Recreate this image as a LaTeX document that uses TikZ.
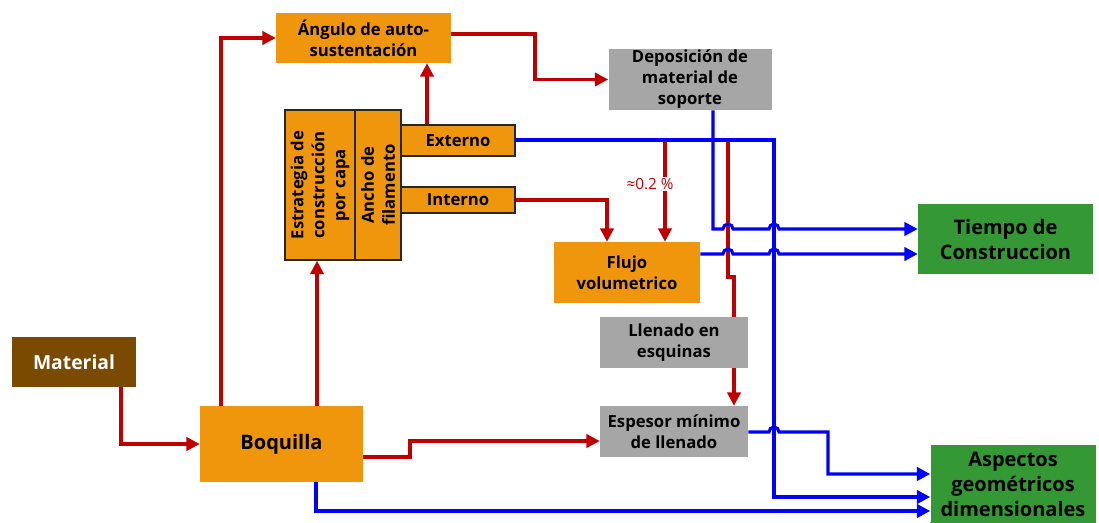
\documentclass[tikz,border=0pt]{standalone}
\usepackage{fontspec}
\setmainfont{Open Sans}
\usetikzlibrary{arrows.meta}
\definecolor{naranja}{RGB}{240,150,12}
\definecolor{gris}{RGB}{166,166,166}
\definecolor{verde}{RGB}{52,153,52}
\definecolor{cafe}{RGB}{122,74,0}
\definecolor{rojo}{RGB}{192,0,0}
\definecolor{azul}{RGB}{0,0,255}
% small bridge where a blue line jumps over another one
\newcommand\hop[2]{-- (#1-5,#2) arc[start angle=180,end angle=0,radius=3.75pt]}

\begin{document}
\begin{tikzpicture}[x=0.75pt,y=-0.75pt,
  box/.style={inner sep=0pt,align=center,font=\bfseries\fontsize{12.5}{15.75}\selectfont},
  orangebox/.style={box,fill=naranja},
  framebox/.style={box,fill=naranja,draw=black!85,line width=1.2pt},
  graybox/.style={box,fill=gris},
  greenbox/.style={box,fill=verde,font=\bfseries\fontsize{15}{18.75}\selectfont},
  redline/.style={draw=rojo,line width=2.3pt,-{Triangle[length=10pt,width=10pt]}},
  blueline/.style={draw=azul,line width=2.3pt,-{Triangle[length=10pt,width=10pt]}}]
\useasboundingbox (0,0) rectangle (1099,522);

  \node[box,fill=cafe,text=white,minimum width=93pt,minimum height=37.5pt,font=\bfseries\fontsize{14.5}{16}\selectfont] (mat) at (74,362){Material};
  \node[orangebox,minimum width=122.25pt,minimum height=57pt,font=\bfseries\fontsize{15}{17}\selectfont] (boq) at (281.5,444){Boquilla};
  \node[orangebox,minimum width=131.25pt,minimum height=37.5pt] (ang) at (363.5,38){Ángulo de auto-\\sustentación};
  \node[graybox,minimum width=122.25pt,minimum height=45.75pt] (dep) at (690,79.5){Deposición de\\material de\\soporte};

  \node[framebox,rotate=90,minimum width=112.5pt,minimum height=52.5pt] (est) at (320,185){Estrategia de\\construcción\\por capa};
  \node[framebox,rotate=90,minimum width=112.5pt,minimum height=34.5pt] (anc) at (378,185){Ancho de\\filamento};
  \node[framebox,minimum width=85.5pt,minimum height=23.25pt] (ext) at (458,140.5){Externo};
  \node[framebox,minimum width=85.5pt,minimum height=19.5pt] (int) at (458,200){Interno};

  \node[orangebox,minimum width=109.5pt,minimum height=45.75pt] (flu) at (627,272.5){Flujo\\volumetrico};
  \node[graybox,minimum width=111pt,minimum height=38.25pt] (lle) at (674,342.5){Llenado en\\esquinas};
  \node[graybox,minimum width=111pt,minimum height=38.25pt] (esp) at (674,431.5){Espesor mínimo\\de llenado};

  \node[greenbox,minimum width=131.25pt,minimum height=52.5pt] (tie) at (1005.5,239){Tiempo de\\Construccion};
  \node[greenbox,minimum width=123.75pt,minimum height=60pt] (asp) at (1013,484.5){Aspectos\\geométricos\\dimensionales};
  \fill[verde] (asp.south west) rectangle (asp.east |- 0,522);

  \coordinate (e1) at (665,140);
  \coordinate (e2) at (728,140);

  % red connectors
  \draw[redline] (mat.south -| 121,0) |- (boq.west);
  \draw[redline] (boq.north -| 221,0) |- (ang.west);
  \draw[redline] (boq.north -| 317,0) -- (est.west -| 317,0);
  \draw[redline] (boq.east |- 0,457) -| (410,441) -- (esp.west |- 0,441);
  \draw[redline] (ext.north -| 427,0) -- (ang.south -| 427,0);
  \draw[redline] (ang.east |- 0,34) -- (535,34) |- (dep.west);
  \draw[redline] (int.east) -| (flu.north -| 607,0);
  \draw[redline] (e1) -- (flu.north -| e1);
  \node[fill=white,inner sep=1pt,text=rojo,font=\fontsize{11.5}{13}\selectfont] (pct) at (650,184){≈0.2 \%};
  \draw[redline,-] (e2) -- (728,277) -- (734,277) -- (lle.north -| 734,0);
  \draw[redline] (lle.south -| 734,0) -- (esp.north -| 734,0);

  % blue connectors
  \draw[blueline] (ext.east |- e1) -- (774,140) -- (774,497) -- (asp.west |- 0,497);
  \draw[blueline] (dep.south -| 713,0) -- (713,229) \hop{728}{229} \hop{774}{229} -- (tie.west |- 0,229);
  \draw[blueline] (flu.east |- 0,254) \hop{728}{254} \hop{774}{254} -- (tie.west |- 0,254);
  \draw[blueline] (esp.east |- 0,432) \hop{774}{432} -- (828,432) |- (asp.west |- 0,474);
  \draw[blueline] (boq.south -| 316,0) |- (asp.west |- 0,511);

\end{tikzpicture}
\end{document}
